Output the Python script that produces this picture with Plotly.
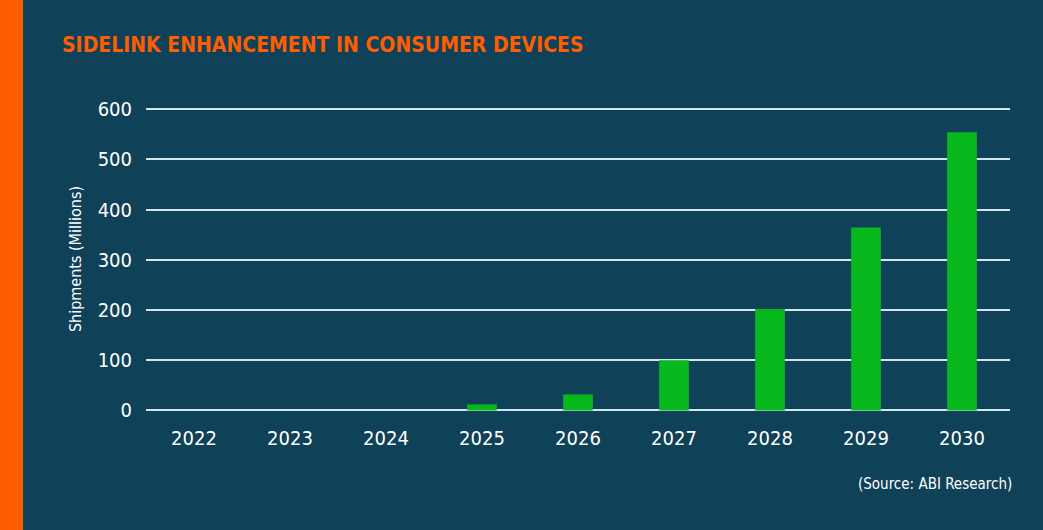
import plotly.graph_objects as go

years = ["2022", "2023", "2024", "2025", "2026", "2027", "2028", "2029", "2030"]
shipments = [0, 0, 0, 12, 32, 100, 202, 364, 554]
y_ticks = [0, 100, 200, 300, 400, 500, 600]

W, H = 1043, 530
L, R, T, B = 146, 33, 106, 118
pw = W - L - R
ph = H - T - B

BG = "#0f4158"
ORANGE = "#ff5e00"
GREEN = "#06b81c"
GRID = "#d3e6f0"
FONT = "DejaVu Sans Condensed, Liberation Sans Narrow, sans-serif"

fig = go.Figure(
    go.Bar(x=years, y=shipments, marker=dict(color=GREEN, line=dict(width=0)), width=0.31)
)

fig.update_layout(
    width=W, height=H,
    margin=dict(l=L, r=R, t=T, b=B),
    paper_bgcolor=BG, plot_bgcolor=BG,
    showlegend=False,
    font=dict(family=FONT, color="white"),
    xaxis=dict(
        type="category", showgrid=False, zeroline=False, showline=False,
        tickfont=dict(size=20, color="white"), ticks="", ticklabelstandoff=12,
    ),
    yaxis=dict(
        range=[-3, 606], tickvals=y_ticks, showgrid=True, gridcolor=GRID, gridwidth=2,
        zeroline=False, showline=False, ticks="",
        tickfont=dict(size=20, color="white"), ticklabelstandoff=13,
        title=dict(text="Shipments (Millions)", font=dict(size=16, color="white"), standoff=12),
    ),
    shapes=[
        dict(type="rect", xref="paper", yref="paper",
             x0=-L / pw, x1=(23 - L) / pw, y0=-B / ph, y1=1 + T / ph,
             fillcolor=ORANGE, line=dict(width=0), layer="below"),
    ],
    annotations=[
        dict(text="<b>SIDELINK ENHANCEMENT IN CONSUMER DEVICES</b>", xref="paper", yref="paper",
             x=(60 - L) / pw, y=1 + (T - 45) / ph, xanchor="left", yanchor="middle",
             showarrow=False, font=dict(size=21, color=ORANGE, family=FONT)),
        dict(text="(Source: ABI Research)", xref="paper", yref="paper",
             x=(1014 - L) / pw, y=-(484 - T - ph) / ph, xanchor="right", yanchor="middle",
             showarrow=False, font=dict(size=15, color="white", family=FONT)),
    ],
)

fig.write_html(
    "out.html",
    config={"displayModeBar": False},
    post_script="document.body.style.margin='0';document.body.style.overflow='hidden';",
)
